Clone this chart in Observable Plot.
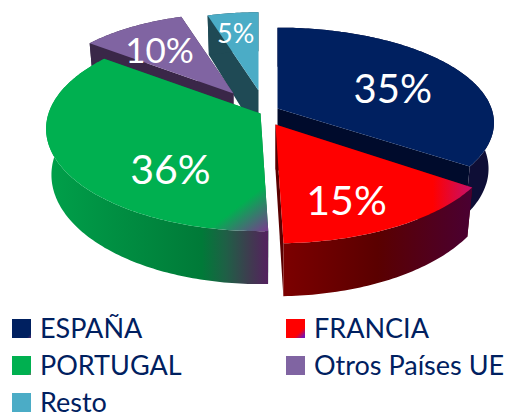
<!DOCTYPE html>
<html>
<head>
<meta charset="utf-8">
<script src="https://cdn.jsdelivr.net/npm/d3@7"></script>
<script src="https://cdn.jsdelivr.net/npm/@observablehq/plot@0.6"></script>
<style>
  html, body { margin: 0; padding: 0; background: #fff; }
  #chart { width: 516px; height: 310px; }
  #chart svg { display: block; }
  #legend { position: relative; width: 516px; height: 109px; font-family: Lato, "Open Sans", sans-serif; font-size: 27px; color: #002060; }
  .item { position: absolute; height: 28px; line-height: 28px; white-space: nowrap; }
  .item i { position: absolute; left: 0; top: 5px; width: 19px; height: 19px; }
  .item span { position: absolute; left: 28px; top: 0; }
</style>
</head>
<body>
<div id="chart"></div>
<div id="legend"></div>
<script>
// Data
const categories = ["ESPAÑA", "FRANCIA", "PORTUGAL", "Otros Países UE", "Resto"];
const shares = [35, 15, 36, 10, 5];

// Colours
const topFill  = ["#002060", "url(#topFR)", "url(#topPT)", "#8064a2", "#4bacc6"];
const sideFill = ["#0e0e36", "url(#wallFR)", "url(#wallPT)", "#3a2748", "#1f4a55"];
const cutFill  = ["#000b2c", "#5a0000", "#007a38", "#3a2748", "#1f4a55"];
const swatch = [
  "linear-gradient(135deg,#002060 88%,#5a2a70)",
  "linear-gradient(135deg,#ff0000 70%,#7a10b0 92%)",
  "linear-gradient(135deg,#00b050 90%,#7a6a70)",
  "#8064a2",
  "#4bacc6"
];

// Exploded, perspective-tilted layout of each slice
const apexX = [277, 275, 260, 233, 258];
const apexY = [108, 124, 113, 93, 90];
const radX  = [214, 219, 212, 195, 190];
const radY  = [93, 101, 100, 92, 90];
const labelFracX = [0.65, 0.59, 0.446, 0.73, 0.89];
const labelFracY = [0.45, 0.76, 1.15, 0.62, 0.72];
const labelSize  = [40, 41, 41, 35, 27];
const depth = 45, tilt = 0.15, baseShrink = 0.975;
const drawOrder = [4, 3, 2, 0, 1];

const total = d3.sum(shares);
const cumul = d3.cumsum(shares);
const startA = i => (i ? cumul[i - 1] : 0) / total * 2 * Math.PI;
const endA = i => cumul[i] / total * 2 * Math.PI;

function project(i, a, fx = 1, fy = 1) {
  const s = 1 / (1 + tilt * Math.cos(a));
  return {
    x: apexX[i] + radX[i] * Math.sin(a) * s * fx,
    y: apexY[i] - radY[i] * Math.cos(a) * s * fy,
    s
  };
}
function arc(i) {
  const a0 = startA(i), a1 = endA(i);
  const n = Math.max(8, Math.ceil((a1 - a0) * 60));
  return d3.range(n + 1).map(k => project(i, a0 + (a1 - a0) * k / n));
}
const poly = (pts, fill) => Plot.line(pts, {x: "x", y: "y", fill, stroke: "none"});

function gradient(defs, id, stops, x1 = 0, y1 = 0, x2 = 1, y2 = 0) {
  const g = defs.append("linearGradient").attr("id", id)
    .attr("x1", x1).attr("y1", y1).attr("x2", x2).attr("y2", y2);
  stops.forEach(([o, c]) => g.append("stop").attr("offset", o).attr("stop-color", c));
}
const defsMark = () => {
  const defs = d3.create("svg:defs");
  gradient(defs, "topFR", [[0.8, "#ff0000"], [1, "#c4106e"]]);
  gradient(defs, "topPT", [[0.86, "#00b050"], [1, "#7a3a8f"]], 0, 0, 1, 1);
  gradient(defs, "wallFR", [[0, "#7c0000"], [0.5, "#5a0000"], [1, "#4a0032"]]);
  gradient(defs, "wallPT", [[0, "#00a04a"], [0.7, "#007a38"], [0.81, "#1f5f46"], [0.92, "#403a50"], [1, "#54215f"]]);
  return defs.node();
};

const marks = [defsMark];
for (const i of drawOrder) {
  const down = p => ({x: apexX[i] + (p.x - apexX[i]) * baseShrink, y: p.y + depth * p.s});
  const pts = arc(i);
  const apex = {x: apexX[i], y: apexY[i], s: 1};
  const first = pts[0], last = pts[pts.length - 1];
  const cut = e => [apex, e, down(e), down(apex)];
  marks.push(poly(cut(first), cutFill[i]));
  marks.push(poly(cut(last), cutFill[i]));
  marks.push(poly([...pts, ...pts.map(down).reverse()], sideFill[i]));
  marks.push(poly([apex, ...pts], topFill[i]));
}
drawOrder.forEach(i => {
  const mid = (startA(i) + endA(i)) / 2;
  const p = project(i, mid, labelFracX[i], labelFracY[i]);
  marks.push(Plot.text([`${shares[i]}%`], {
    x: () => p.x, y: () => p.y, text: d => d,
    fill: "#fff", fontSize: labelSize[i], fontFamily: "Lato, 'Open Sans', sans-serif",
    textAnchor: "middle", lineAnchor: "middle"
  }));
});

const chart = Plot.plot({
  width: 516, height: 310,
  margin: 0,
  x: {domain: [0, 516], axis: null},
  y: {domain: [310, 0], axis: null},
  style: {background: "transparent"},
  marks
});
document.getElementById("chart").append(chart);

// Legend
const legend = d3.select("#legend");
const colX = [12, 286];
categories.forEach((c, i) => {
  const item = legend.append("div").attr("class", "item")
    .style("left", colX[i % 2] + "px")
    .style("top", Math.floor(i / 2) * 37 + 4 + "px");
  item.append("i").style("background", swatch[i]);
  item.append("span").text(c);
});
</script>
</body>
</html>
